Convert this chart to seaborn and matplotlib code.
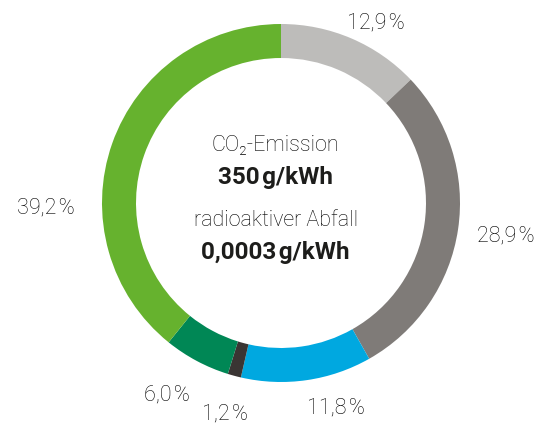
import numpy as np
import matplotlib
matplotlib.use("Agg")
import matplotlib.pyplot as plt
import seaborn as sns

sns.set_theme(style="white")
plt.rcParams['font.family'] = ['Roboto', 'DejaVu Sans']

# share of each source, clockwise from the top
shares = [12.9, 28.9, 11.8, 1.2, 6.0, 39.2]
colors = ["#bdbcba", "#7f7b78", "#00a8e0", "#3a3533", "#008755", "#66b22e"]
labels = [f"{v:.1f}".replace(".", ",") + "\u200a%" for v in shares]

# label spots (data units, ring radius = 1)
label_pos = [(0.53, 1.006), (1.257, -0.184), (0.307, -1.145),
             (-0.313, -1.179), (-0.637, -1.073), (-1.313, -0.028)]

fig = plt.figure(figsize=(5.47, 4.25), dpi=100)
ax = fig.add_axes([0, 0, 1, 1])

ax.pie(shares, colors=sns.color_palette(colors), startangle=90, counterclock=False,
       radius=1.0, wedgeprops=dict(width=0.19, linewidth=0))

txt = "#000000"
for lab, (x, y) in zip(labels, label_pos):
    ax.text(x, y, lab, ha="center", va="center", fontsize=15.5, color=txt, fontweight="light")

ax.text(-0.03, 0.324, "CO\u2082-Emission", ha="center", va="center", fontsize=15.5, color=txt, fontweight="light")
ax.text(-0.03, 0.145, "350\u200ag/kWh", ha="center", va="center", fontsize=17.5, color="#1d1d1b", fontweight="bold")
ax.text(-0.03, -0.095, "radioaktiver Abfall", ha="center", va="center", fontsize=15.5, color=txt, fontweight="light")
ax.text(-0.03, -0.274, "0,0003\u200ag/kWh", ha="center", va="center", fontsize=17.5, color="#1d1d1b", fontweight="bold")

ax.set_aspect("auto")
ax.set_xlim(-281 / 179, (547 - 281) / 179)
ax.set_ylim((203 - 425) / 179, 203 / 179)
ax.axis("off")

fig.savefig("out.png", dpi=100)
